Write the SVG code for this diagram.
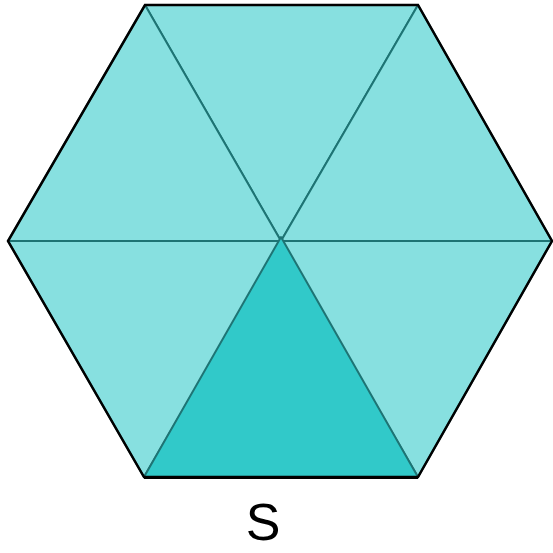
<svg xmlns="http://www.w3.org/2000/svg" width="553" height="553" viewBox="0 0 553 553">
<style>
.light{fill:#87E0E0;stroke:#1E7474;stroke-width:2;stroke-linejoin:round}
.dark{fill:#31C9C9;stroke:#1E7474;stroke-width:2;stroke-linejoin:round}
.outline{fill:none;stroke:#000;stroke-width:2.5;stroke-linejoin:miter}
.lbl{font-family:"Liberation Sans",Arial,sans-serif;font-size:52px;fill:#000}
</style>
<rect width="553" height="553" fill="#fff"/>
<g id="hexagon">
<polygon class="light" points="281,241 145,5 418,5"/>
<polygon class="light" points="281,241 418,5 552,241"/>
<polygon class="light" points="281,241 552,241 418,477"/>
<polygon class="light" points="281,241 144,477 8,241"/>
<polygon class="light" points="281,241 8,241 145,5"/>
<polygon class="dark" points="281,237 418,477 144,477"/>
<polygon class="outline" points="145,5 418,5 552,241 418,477 144,477 8,241"/>
<line x1="144" y1="478" x2="418" y2="478" stroke="#000" stroke-width="2"/>
</g>
<g id="label"><text class="lbl" x="263" y="540" text-anchor="middle">S</text></g>
</svg>
